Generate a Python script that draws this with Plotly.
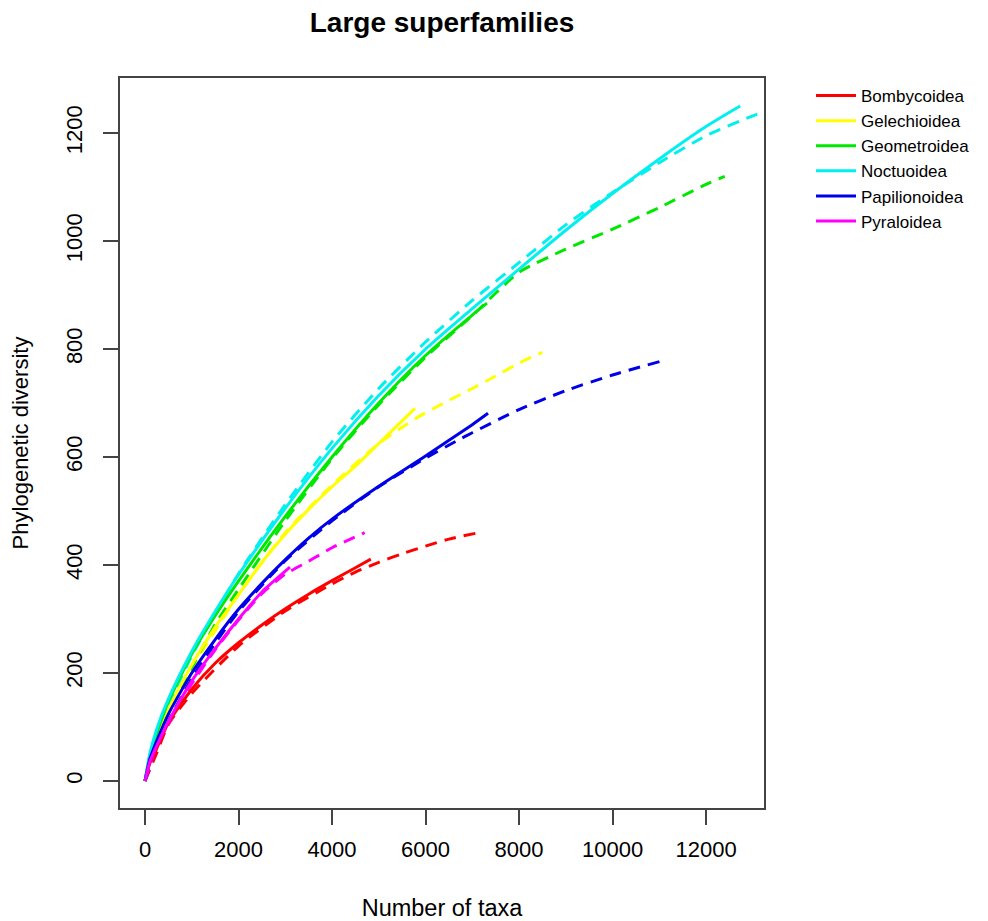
import plotly.graph_objects as go

names = ["Bombycoidea", "Gelechioidea", "Geometroidea", "Noctuoidea", "Papilionoidea", "Pyraloidea"]
colors = ["#FF0000", "#FFFF00", "#00E800", "#00F0F0", "#0000E8", "#FF00FF"]

# observed (solid) curves
bomb_x = [0, 100, 250, 500, 1000, 1500, 2000, 2500, 3000, 3500, 4000, 4500, 4830]
bomb_y = [0, 32, 60, 108, 170, 218, 256, 289, 319, 346, 371, 395, 411]
gele_x = [0, 100, 250, 500, 1000, 1500, 2000, 2500, 3000, 3500, 4000, 4500, 5000, 5500, 5775]
gele_y = [0, 42, 80, 132, 215, 285, 345, 405, 457, 503, 545, 583, 625, 667, 690]
geom_x = [0, 100, 250, 500, 1000, 1500, 2000, 3000, 4000, 5000, 6000, 7000, 7315]
geom_y = [0, 45, 88, 147, 235, 306, 370, 490, 600, 700, 788, 863, 885]
noct_x = [0, 100, 250, 500, 1000, 1500, 2000, 3000, 4000, 5000, 6000, 7000, 8000, 9000, 10000, 11000, 12000, 12730]
noct_y = [0, 50, 96, 152, 240, 314, 382, 505, 616, 714, 800, 875, 948, 1020, 1088, 1152, 1212, 1250]
papi_x = [0, 100, 250, 500, 1000, 1500, 2000, 2500, 3000, 3500, 4000, 5000, 6000, 7000, 7337]
papi_y = [0, 40, 74, 124, 200, 262, 318, 366, 410, 450, 485, 546, 602, 660, 681]
pyra_x = [0, 100, 250, 500, 1000, 1500, 2000, 2500, 3100]
pyra_y = [0, 35, 65, 110, 185, 245, 300, 350, 396]

# predicted (dashed) curves
bomb_dx = [0, 250, 500, 1000, 2000, 3000, 4000, 4500, 5000, 5500, 6000, 6500, 7200]
bomb_dy = [0, 52, 105, 162, 250, 315, 365, 387, 405, 421, 435, 448, 461]
gele_dx = [0, 250, 500, 1000, 2000, 3000, 4000, 5000, 5800, 6500, 7000, 7500, 8000, 8500]
gele_dy = [0, 72, 124, 208, 345, 460, 548, 625, 672, 705, 727, 750, 774, 794]
geom_dx = [0, 250, 500, 1000, 1500, 2000, 3000, 4000, 5000, 6000, 7000, 8000, 9000, 10000, 11000, 12000, 12400]
geom_dy = [0, 75, 125, 210, 290, 355, 482, 597, 697, 785, 862, 942, 985, 1022, 1062, 1105, 1120]
noct_dx = [0, 250, 500, 1000, 2000, 3000, 4000, 5000, 6000, 7000, 8000, 9000, 10000, 11000, 12000, 13000, 13600]
noct_dy = [0, 85, 140, 232, 384, 512, 628, 727, 813, 890, 960, 1030, 1090, 1145, 1195, 1232, 1250]
papi_dx = [0, 250, 500, 1000, 1500, 2000, 3000, 4000, 5000, 6000, 6667, 7000, 8000, 9000, 10000, 11060]
papi_dy = [0, 62, 110, 190, 255, 314, 408, 482, 545, 598, 630, 645, 688, 723, 752, 778]
pyra_dx = [0, 250, 500, 1000, 1500, 2000, 2500, 3000, 3500, 4000, 4700]
pyra_dy = [0, 62, 105, 180, 243, 298, 347, 383, 407, 432, 460]

x_ticks = [0, 2000, 4000, 6000, 8000, 10000, 12000]
y_ticks = [0, 200, 400, 600, 800, 1000, 1200]

solid = [(bomb_x, bomb_y), (gele_x, gele_y), (geom_x, geom_y), (noct_x, noct_y), (papi_x, papi_y), (pyra_x, pyra_y)]
dashed = [(bomb_dx, bomb_dy), (gele_dx, gele_dy), (geom_dx, geom_dy), (noct_dx, noct_dy), (papi_dx, papi_dy), (pyra_dx, pyra_dy)]

FONT = "Liberation Sans, Arial, sans-serif"
AXC = "#444444"

fig = go.Figure()
for (dx, dy), c, n in zip(dashed, colors, names):
    fig.add_trace(go.Scatter(x=dx, y=dy, mode="lines",
                             line=dict(color=c, width=3, dash="12px,8px", shape="spline", smoothing=0.6),
                             showlegend=False, name=n + " (dashed)"))
for (sx, sy), c, n in zip(solid, colors, names):
    fig.add_trace(go.Scatter(x=sx, y=sy, mode="lines",
                             line=dict(color=c, width=3, shape="spline", smoothing=0.6), name=n))

fig.update_layout(
    width=980, height=913,
    margin=dict(l=112, r=224, t=70, b=113, autoexpand=False),
    paper_bgcolor="white", plot_bgcolor="white",
    font=dict(family=FONT, size=22, color="black"),
    title=dict(text="<b>Large superfamilies</b>", x=0.5, xref="paper", xanchor="center",
               y=1 - 14 / 913, yref="container", yanchor="middle", font=dict(size=28)),
    legend=dict(x=1.073, xanchor="left", y=1.0, yanchor="top", font=dict(size=17),
                itemwidth=40, tracegroupgap=0, bgcolor="rgba(0,0,0,0)"),
    xaxis=dict(range=[-535, 13240], tickvals=x_ticks, ticktext=[str(v) for v in x_ticks], automargin=False,
               showgrid=False, zeroline=False, showline=True, mirror=True, linecolor=AXC, linewidth=2,
               ticks="outside", ticklen=15, tickwidth=1.5, tickcolor=AXC, ticklabelstandoff=6,
               title=dict(text="Number of taxa", standoff=42, font=dict(size=23.5))),
    yaxis=dict(range=[-50, 1302], tickvals=y_ticks, ticktext=[str(v) for v in y_ticks], tickangle=-90,
               automargin=False,
               showgrid=False, zeroline=False, showline=True, mirror=True, linecolor=AXC, linewidth=2,
               ticks="outside", ticklen=15, tickwidth=1.5, tickcolor=AXC, ticklabelstandoff=12,
               title=dict(text="Phylogenetic diversity", standoff=28, font=dict(size=22))),
)

fig.write_html("out.html")
